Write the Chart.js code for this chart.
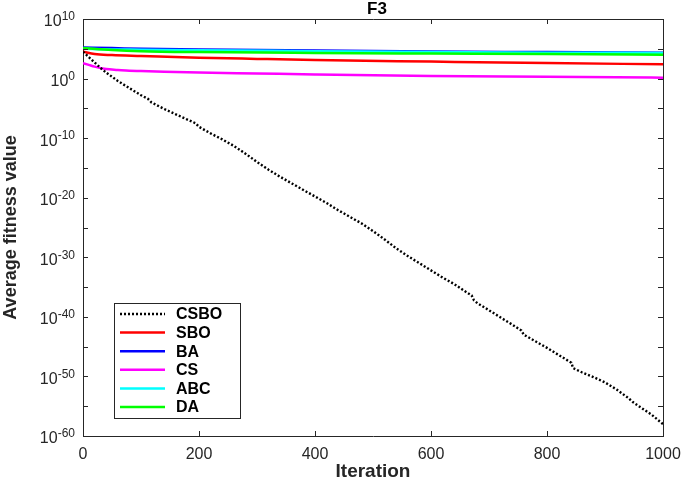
<!DOCTYPE html>
<html>
<head>
<meta charset="utf-8">
<script src="https://cdn.jsdelivr.net/npm/chart.js@4.4.1/dist/chart.umd.min.js"></script>
<style>
  html, body { margin: 0; padding: 0; background: #fff; }
  #wrap { width: 685px; height: 479px; }
</style>
</head>
<body>
<div id="wrap"><canvas id="chart"></canvas></div>
<script>
// x ticks and y ticks (major labelled every 10 decades, minor marks every 5)
const iterTicks = [0, 200, 400, 600, 800, 1000];
const yLabelTicks = [1e10, 1e0, 1e-10, 1e-20, 1e-30, 1e-40, 1e-50, 1e-60];
const yLabelExps = ["10", "0", "-10", "-20", "-30", "-40", "-50", "-60"];
const yMarkTicks = [1e10, 1e5, 1e0, 1e-5, 1e-10, 1e-15, 1e-20, 1e-25, 1e-30, 1e-35,
  1e-40, 1e-45, 1e-50, 1e-55, 1e-60];

// CSBO
const csboIter = [0, 10, 20, 30, 40, 60, 80, 100, 112, 118, 140, 160, 180, 194, 200,
  220, 240, 260, 280, 300, 320, 340, 360, 380, 400, 420, 440, 460, 480, 500, 520, 540,
  560, 580, 600, 620, 640, 660, 670, 674, 680, 700, 720, 740, 756, 760, 780, 800, 820,
  842, 845, 860, 880, 900, 920, 940, 948, 960, 980, 1000];
const csboFit = [3.2e4, 4.0e3, 5.0e2, 6.3e1, 1.0e1, 4.0e-1, 2.5e-2, 1.6e-3, 4.0e-4, 1.0e-4,
  7.9e-6, 1.0e-6, 1.3e-7, 3.2e-8, 7.9e-9, 6.3e-10, 6.3e-11, 5.0e-12, 2.5e-13, 1.0e-14,
  5.0e-16, 3.2e-17, 2.5e-18, 2.0e-19, 1.6e-20, 1.3e-21, 7.9e-23, 6.3e-24, 5.0e-25, 2.5e-26,
  1.0e-27, 3.2e-29, 1.6e-30, 1.0e-31, 6.3e-33, 4.0e-34, 3.2e-35, 1.6e-36, 4.0e-37, 6.3e-38,
  2.0e-38, 1.3e-39, 7.9e-41, 5.0e-42, 5.0e-43, 1.0e-43, 7.9e-45, 6.3e-46, 4.0e-47, 2.0e-48,
  2.5e-49, 5.0e-50, 7.9e-51, 1.0e-51, 6.3e-53, 2.5e-54, 5.0e-55, 7.9e-56, 4.0e-57, 1.0e-58];

// SBO
const sboIter = [0, 20, 50, 100, 200, 300, 400, 600, 800, 1000];
const sboFit = [3.2e4, 1.3e4, 8.9e3, 6.3e3, 3.2e3, 2.0e3, 1.3e3, 7.1e2, 4.0e2, 2.5e2];

// BA, ABC, DA share iterations
const flatIter = [0, 50, 100, 200, 400, 600, 800, 1000];
const baFit = [1.6e5, 1.3e5, 1.0e5, 7.9e4, 5.0e4, 3.5e4, 2.8e4, 2.2e4];
const abcFit = [1.0e5, 7.9e4, 7.1e4, 5.6e4, 4.0e4, 2.8e4, 2.2e4, 2.0e4];
const daFit = [1.3e5, 6.3e4, 4.0e4, 2.8e4, 2.0e4, 1.6e4, 1.3e4, 1.0e4];

// CS
const csIter = [0, 10, 20, 40, 60, 80, 100, 200, 300, 400, 600, 800, 1000];
const csFit = [4.0e2, 2.0e2, 1.0e2, 4.0e1, 2.8e1, 2.0e1, 1.8e1, 1.0e1, 7.1, 5.0, 2.8, 2.0, 1.4];

const AXIS = "#262626";
const FONT = "'Liberation Sans', Arial, Helvetica, sans-serif";

function pts(xs, ys) {
  return xs.map((x, i) => ({ x: x, y: ys[i] }));
}

// inward ticks, top/right box, y labels with exponents, title and legend (MATLAB look)
const frame = {
  id: "frame",
  afterDatasetsDraw(chart) {
    const { ctx, chartArea: a, scales } = chart;
    ctx.save();
    ctx.strokeStyle = AXIS;
    ctx.lineWidth = 1;
    ctx.beginPath();
    ctx.moveTo(a.left, a.top + 0.5);
    ctx.lineTo(a.right + 0.5, a.top + 0.5);
    ctx.lineTo(a.right + 0.5, a.bottom);
    iterTicks.forEach((t) => {
      const px = Math.round(scales.x.getPixelForValue(t)) + 0.5;
      ctx.moveTo(px, a.bottom);
      ctx.lineTo(px, a.bottom - 5);
      ctx.moveTo(px, a.top);
      ctx.lineTo(px, a.top + 5);
    });
    yMarkTicks.forEach((t) => {
      const py = Math.round(scales.y.getPixelForValue(t)) + 0.5;
      ctx.moveTo(a.left, py);
      ctx.lineTo(a.left + 5, py);
      ctx.moveTo(a.right, py);
      ctx.lineTo(a.right - 5, py);
    });
    ctx.stroke();

    // y tick labels: 10 with raised exponent
    ctx.fillStyle = AXIS;
    ctx.textAlign = "left";
    ctx.textBaseline = "middle";
    yLabelTicks.forEach((t, i) => {
      const py = scales.y.getPixelForValue(t);
      ctx.font = "12px " + FONT;
      const ew = ctx.measureText(yLabelExps[i]).width;
      ctx.fillText(yLabelExps[i], a.left - 8 - ew, py - 2);
      ctx.font = "16px " + FONT;
      const bw = ctx.measureText("10").width;
      ctx.fillText("10", a.left - 8 - ew - bw, py + 3);
    });

    // title
    ctx.fillStyle = "#000";
    ctx.font = "bold 17px " + FONT;
    ctx.textAlign = "center";
    ctx.fillText("F3", (a.left + a.right) / 2 + 4, 9);

    // legend box
    const bx = 114, by = 303, bw = 126, bh = 115;
    ctx.fillStyle = "#fff";
    ctx.fillRect(bx, by, bw, bh);
    ctx.strokeStyle = AXIS;
    ctx.strokeRect(bx + 0.5, by + 0.5, bw, bh);
    ctx.font = "bold 16px " + FONT;
    ctx.textAlign = "left";
    chart.data.datasets.forEach((ds, i) => {
      const y = by + 11 + i * 18.6;
      ctx.beginPath();
      ctx.strokeStyle = ds.borderColor;
      ctx.lineWidth = ds.borderWidth;
      ctx.setLineDash(ds.borderDash || []);
      ctx.moveTo(120, y);
      ctx.lineTo(165, y);
      ctx.stroke();
      ctx.setLineDash([]);
      ctx.fillStyle = "#000";
      ctx.fillText(ds.label, 176, y + 1);
    });
    ctx.restore();
  }
};

const ctx = document.getElementById("chart").getContext("2d");
const fitnessChart = new Chart(ctx, {
  type: "line",
  data: {
    datasets: [
      { label: "CSBO", data: pts(csboIter, csboFit), borderColor: "#000000",
        borderWidth: 2.4, borderDash: [2, 2], tension: 0, order: 0 },
      { label: "SBO", data: pts(sboIter, sboFit), borderColor: "#ff0000",
        borderWidth: 2.5, cubicInterpolationMode: "monotone", order: 1 },
      { label: "BA", data: pts(flatIter, baFit), borderColor: "#0000ff",
        borderWidth: 2.5, cubicInterpolationMode: "monotone", order: 4 },
      { label: "CS", data: pts(csIter, csFit), borderColor: "#ff00ff",
        borderWidth: 2.5, cubicInterpolationMode: "monotone", order: 5 },
      { label: "ABC", data: pts(flatIter, abcFit), borderColor: "#00ffff",
        borderWidth: 2.5, cubicInterpolationMode: "monotone", order: 3 },
      { label: "DA", data: pts(flatIter, daFit), borderColor: "#00ff00",
        borderWidth: 2.5, cubicInterpolationMode: "monotone", order: 2 },
    ],
  },
  options: {
    responsive: true,
    maintainAspectRatio: false,
    animation: false,
    layout: { padding: { top: 19, right: 22, left: 0, bottom: 0 } },
    elements: { point: { radius: 0 } },
    plugins: {
      legend: { display: false },
      tooltip: { enabled: false },
    },
    scales: {
      x: {
        type: "linear",
        min: 0,
        max: 1000,
        afterBuildTicks: (scale) => {
          scale.ticks = iterTicks.map((v) => ({ value: v }));
        },
        afterFit: (scale) => { scale.height = 43; },
        grid: { display: false },
        border: { display: true, color: AXIS, width: 1 },
        ticks: { color: AXIS, font: { family: FONT, size: 16 }, padding: 1,
          maxRotation: 0, callback: (v) => String(v) },
        title: { display: true, text: "Iteration", color: AXIS,
          font: { family: FONT, size: 19, weight: "bold", lineHeight: 1 },
          padding: { top: 0, bottom: -2 } },
      },
      y: {
        type: "logarithmic",
        min: 1e-60,
        max: 1e10,
        afterBuildTicks: (scale) => {
          scale.ticks = yLabelTicks.map((v) => ({ value: v }));
        },
        afterFit: (scale) => { scale.width = 83; },
        grid: { display: false },
        border: { display: true, color: AXIS, width: 1 },
        ticks: { display: false },
        title: { display: true, text: "Average fitness value", color: AXIS,
          font: { family: FONT, size: 18, weight: "bold", lineHeight: 1 },
          padding: { top: 2, bottom: 0 } },
      },
    },
  },
  plugins: [frame],
});
</script>
</body>
</html>
